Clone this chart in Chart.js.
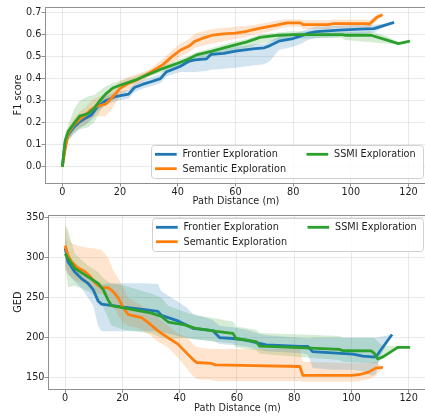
<!DOCTYPE html>
<html><head><meta charset="utf-8">
<script src="https://cdn.jsdelivr.net/npm/chart.js@4"></script>
<style>
html,body{margin:0;padding:0;background:#fff;overflow:hidden;width:425px;height:416px;}
canvas{position:absolute;left:0;}
#c1{top:0;} #c2{top:208px;}
</style></head>
<body>
<canvas id="c1" width="432" height="208"></canvas>
<canvas id="c2" width="432" height="208"></canvas>
<script>
// ---------- data ----------
const seriesNames = ['Frontier Exploration', 'Semantic Exploration', 'SSMI Exploration'];
const xTicks = [0, 20, 40, 60, 80, 100, 120];
const f1Ticks = [0.0, 0.1, 0.2, 0.3, 0.4, 0.5, 0.6, 0.7];
const gedTicks = [150, 200, 250, 300, 350];

// F1 score
const frontierF1X  = [0, 1, 2, 4, 6, 8, 10, 12, 15, 18.8, 23, 25, 28, 30.5, 34, 36, 40.8, 44, 46, 50, 51.5, 56, 60, 66, 70, 72, 75, 80, 83, 85, 88, 96, 103, 108, 115];
const frontierF1   = [0, 0.11, 0.145, 0.18, 0.205, 0.22, 0.235, 0.27, 0.30, 0.32, 0.33, 0.36, 0.375, 0.385, 0.40, 0.43, 0.455, 0.48, 0.485, 0.49, 0.51, 0.515, 0.525, 0.535, 0.54, 0.55, 0.57, 0.582, 0.595, 0.605, 0.613, 0.62, 0.625, 0.627, 0.655];
const frontierF1Lo = [0, 0.09, 0.12, 0.15, 0.175, 0.19, 0.21, 0.25, 0.28, 0.30, 0.31, 0.34, 0.355, 0.365, 0.38, 0.41, 0.43, 0.43, 0.43, 0.435, 0.44, 0.445, 0.45, 0.46, 0.465, 0.48, 0.53, 0.545, 0.56, 0.575, 0.585, 0.59, 0.60, 0.61, 0.655];
const frontierF1Hi = [0, 0.13, 0.17, 0.21, 0.23, 0.245, 0.26, 0.29, 0.32, 0.34, 0.35, 0.38, 0.395, 0.405, 0.42, 0.45, 0.475, 0.5, 0.505, 0.515, 0.53, 0.535, 0.545, 0.555, 0.56, 0.57, 0.59, 0.605, 0.615, 0.625, 0.635, 0.64, 0.645, 0.645, 0.655];

const semanticF1X  = [0, 1, 2, 4, 6, 8, 10, 12, 15, 17, 20, 23, 26, 30, 35, 38, 41, 44, 46, 49, 52, 56, 60, 64, 67, 71, 75, 78, 82.5, 83.5, 92, 94, 105, 106.5, 109, 111];
const semanticF1   = [0, 0.08, 0.15, 0.19, 0.215, 0.235, 0.26, 0.275, 0.285, 0.31, 0.355, 0.38, 0.395, 0.425, 0.465, 0.50, 0.53, 0.548, 0.57, 0.585, 0.597, 0.603, 0.607, 0.615, 0.625, 0.635, 0.645, 0.653, 0.653, 0.645, 0.645, 0.65, 0.65, 0.648, 0.678, 0.69];
const semanticF1Lo = [0, 0.06, 0.12, 0.16, 0.18, 0.19, 0.22, 0.23, 0.23, 0.26, 0.32, 0.35, 0.37, 0.41, 0.44, 0.47, 0.50, 0.52, 0.54, 0.55, 0.56, 0.57, 0.58, 0.59, 0.60, 0.61, 0.625, 0.635, 0.635, 0.625, 0.625, 0.63, 0.632, 0.63, 0.665, 0.69];
const semanticF1Hi = [0, 0.1, 0.175, 0.22, 0.25, 0.27, 0.30, 0.315, 0.33, 0.35, 0.39, 0.41, 0.42, 0.44, 0.49, 0.53, 0.56, 0.58, 0.605, 0.615, 0.625, 0.63, 0.635, 0.64, 0.645, 0.655, 0.665, 0.67, 0.67, 0.665, 0.665, 0.668, 0.668, 0.665, 0.69, 0.695];

const ssmiF1X  = [0, 1, 2, 4, 6, 9, 11, 13, 15, 17.5, 20, 25, 30, 35, 40, 44, 46.5, 52, 56, 59, 64, 68.5, 75, 80, 90, 97, 98, 107, 112, 116.5, 120.5];
const ssmiF1   = [0, 0.12, 0.16, 0.195, 0.23, 0.242, 0.265, 0.30, 0.33, 0.358, 0.37, 0.392, 0.42, 0.447, 0.47, 0.49, 0.508, 0.525, 0.54, 0.55, 0.567, 0.587, 0.597, 0.60, 0.60, 0.60, 0.597, 0.597, 0.577, 0.559, 0.57];
const ssmiF1Lo = [0, 0.09, 0.12, 0.15, 0.17, 0.18, 0.2, 0.25, 0.29, 0.32, 0.35, 0.38, 0.41, 0.43, 0.455, 0.47, 0.49, 0.5, 0.515, 0.525, 0.54, 0.56, 0.575, 0.58, 0.585, 0.585, 0.575, 0.565, 0.56, 0.555, 0.57];
const ssmiF1Hi = [0, 0.15, 0.19, 0.26, 0.30, 0.32, 0.325, 0.345, 0.365, 0.38, 0.39, 0.41, 0.435, 0.46, 0.485, 0.505, 0.52, 0.54, 0.555, 0.565, 0.58, 0.6, 0.61, 0.615, 0.612, 0.612, 0.612, 0.615, 0.595, 0.565, 0.57];

// GED
const frontierGedX  = [0, 1, 3.4, 5.7, 8, 9.8, 11.5, 12.7, 19.7, 27.8, 32.4, 33.6, 39.4, 42.3, 44.6, 51.6, 54, 58.6, 63.2, 67.9, 70.2, 81.9, 84.8, 86.5, 93.5, 100.5, 104, 107.4, 108.6, 109.8, 114.2];
const frontierGed   = [312, 295, 282, 274, 268, 260, 246, 242, 238.5, 235, 233, 228, 221, 216, 211.7, 208.8, 200, 199, 197, 193, 191, 189, 189, 182.5, 181, 179.6, 177, 176, 176, 182.5, 204];
const frontierGedLo = [290, 280, 270, 262, 250, 240, 215, 208, 208, 208, 208, 207, 202, 200, 198, 196, 192, 191, 189, 185, 183, 181, 179, 162, 160, 160, 158, 152, 155, 175, 204];
const frontierGedHi = [330, 305, 292, 285, 280, 275, 270, 267, 268, 268, 267, 258, 245, 238, 230, 222, 215, 213, 210, 205, 203, 200, 199, 200, 200, 200, 200, 200, 200, 201, 204];

const semanticGedX  = [0, 1, 2.2, 4.5, 6.8, 8.6, 11, 12.7, 15, 16.7, 18.5, 20.3, 22, 24.3, 26.7, 29, 32.4, 35.9, 39.4, 42.8, 45.2, 46, 51, 52.5, 66, 82, 83, 100, 103, 106, 108.5, 111];
const semanticGed   = [315, 303, 295, 287, 283, 277, 266.6, 262.5, 262.5, 258, 250, 237.5, 229, 227, 225, 219, 208.5, 200, 192, 179.5, 171, 169, 168, 166, 165, 164, 153, 153, 154, 157, 162, 163];
const semanticGedLo = [285, 280, 275, 270, 268, 262, 255, 255, 250, 240, 228, 218, 215, 213, 210, 205, 195, 188, 175, 160, 150, 148, 147, 146, 146, 146, 145, 145, 146, 148, 152, 163];
const semanticGedHi = [345, 325, 318, 315, 313, 312, 311, 310, 300, 285, 275, 262, 250, 245, 240, 235, 225, 215, 205, 200, 190, 188, 186, 186, 186, 186, 170, 168, 168, 168, 170, 163];

const ssmiGedX  = [0, 1, 3.4, 8, 11.5, 13.3, 15, 16.2, 20.9, 30.2, 33.6, 36, 41.8, 45.3, 52.8, 58.6, 59.7, 66.7, 67.9, 81.9, 95.8, 97, 106.9, 108, 109.2, 111, 116.2, 120.5];
const ssmiGed   = [305, 299, 286.7, 276, 268, 260, 247, 240, 237, 230.8, 226.6, 219.6, 216, 212, 208, 205.4, 199, 195, 189.6, 187.5, 185.4, 183.7, 183.5, 180.4, 173.3, 176, 188, 188];
const ssmiGedLo = [290, 263, 265, 258, 250, 238, 225, 215, 210, 205, 200, 198, 200, 198, 195, 193, 188, 184, 180, 176, 172, 170, 168, 168, 168, 175, 186, 188];
const ssmiGedHi = [340, 335, 305, 290, 282, 275, 270, 268, 265, 255, 250, 240, 232, 228, 224, 220, 214, 210, 206, 204, 202, 200, 200, 200, 195, 190, 190, 188];

// ---------- style ----------
const COLORS = ['#1f77b4', '#ff7f0e', '#2ca02c'];
const BANDS = ['rgba(31,119,180,0.2)', 'rgba(255,127,14,0.2)', 'rgba(44,160,44,0.2)'];
const FONT = 'DejaVu Sans';
const FS = 9.7;
const TXT = '#1e1e1e';
const SPINE = '#8f8f8f';
const GRID = 'rgba(0,0,0,0.085)';
const LW = 2.8;

function pts(xs, ys) { return xs.map((x, i) => ({x: x, y: ys[i]})); }

function buildDatasets(series) {
  const lines = [], bands = [];
  series.forEach((s, k) => {
    lines.push({label: seriesNames[k], data: pts(s.x, s.y), borderColor: COLORS[k], borderWidth: LW,
      pointRadius: 0, fill: false, tension: 0, borderJoinStyle: 'round', borderCapStyle: 'butt', order: 2 - k});
  });
  series.forEach((s, k) => {
    bands.push({label: 'hi' + k, data: pts(s.x, s.hi), borderWidth: 0, borderColor: 'rgba(0,0,0,0)', pointRadius: 0, fill: false, tension: 0, order: 10});
    bands.push({label: 'lo' + k, data: pts(s.x, s.lo), borderWidth: 0, borderColor: 'rgba(0,0,0,0)', pointRadius: 0,
      fill: '-1', backgroundColor: BANDS[k], tension: 0, order: 10});
  });
  return lines.concat(bands);
}

const chromePlugin = {
  id: 'chrome',
  afterDraw(chart, args, opts) {
    const ctx = chart.ctx, a = chart.chartArea;
    ctx.save();
    ctx.strokeStyle = SPINE; ctx.lineWidth = 1;
    ctx.beginPath();
    ctx.moveTo(a.left, Math.round(a.top) + 0.5); ctx.lineTo(a.right, Math.round(a.top) + 0.5);
    ctx.stroke();
    // legend
    const b = opts.box;
    ctx.beginPath();
    if (ctx.roundRect) ctx.roundRect(b.left + 0.5, b.top + 0.5, b.right - b.left, b.bottom - b.top, 3);
    else ctx.rect(b.left + 0.5, b.top + 0.5, b.right - b.left, b.bottom - b.top);
    ctx.fillStyle = 'rgba(255,255,255,0.8)';
    ctx.fill();
    ctx.strokeStyle = '#d0d0d0';
    ctx.stroke();
    const cols = [[b.left + 4, b.left + 31.5], [b.left + 155.5, b.left + 183]];
    const rows = [b.top + 9.3, b.top + 23.7];
    const place = [[0, 0], [0, 1], [1, 0]];
    ctx.font = FS + 'px "' + FONT + '"';
    ctx.textBaseline = 'middle';
    ctx.textAlign = 'left';
    place.forEach((p, k) => {
      const c = cols[p[0]], y = rows[p[1]];
      ctx.beginPath();
      ctx.strokeStyle = COLORS[k]; ctx.lineWidth = LW;
      ctx.moveTo(c[0], y); ctx.lineTo(c[0] + 21.7, y); ctx.stroke();
      ctx.fillStyle = TXT;
      ctx.fillText(seriesNames[k], c[1], y + 0.5);
    });
    ctx.restore();
  }
};

function makeChart(id, series, yTicks, yMin, yMax, yLabel, yWidth, xHeight, xTitlePad, legendBox, fmt) {
  return new Chart(document.getElementById(id), {
    type: 'line',
    data: {datasets: buildDatasets(series)},
    plugins: [chromePlugin],
    options: {
      responsive: false, animation: false, devicePixelRatio: 1,
      layout: {padding: {top: 7, right: 5, left: 0, bottom: 0}},
      plugins: {legend: {display: false}, tooltip: {enabled: false}, filler: {drawTime: 'beforeDatasetsDraw'},
        chrome: {box: legendBox}},
      scales: {
        x: {
          type: 'linear', min: -6, max: 126.4,
          afterBuildTicks: s => { s.ticks = xTicks.map(v => ({value: v})); },
          afterFit: s => { s.height = xHeight; },
          ticks: {color: TXT, font: {family: FONT, size: FS}, padding: 0, maxRotation: 0, autoSkip: false,
            callback: v => String(v)},
          grid: {color: GRID, lineWidth: 1, tickLength: 3.5, tickColor: SPINE, tickWidth: 1},
          border: {display: true, color: SPINE, width: 1},
          title: {display: true, text: 'Path Distance (m)', color: TXT, font: {family: FONT, size: FS}, padding: {top: 0, bottom: xTitlePad}}
        },
        y: {
          type: 'linear', min: yMin, max: yMax,
          afterBuildTicks: s => { s.ticks = yTicks.map(v => ({value: v})); },
          afterFit: s => { s.width = yWidth; },
          ticks: {color: TXT, font: {family: FONT, size: FS}, padding: 0, autoSkip: false, callback: fmt},
          grid: {color: GRID, lineWidth: 1, tickLength: 3.5, tickColor: SPINE, tickWidth: 1},
          border: {display: true, color: SPINE, width: 1},
          title: {display: true, text: yLabel, color: TXT, font: {family: FONT, size: FS}, padding: {top: 13, bottom: 0}}
        }
      }
    }
  });
}

makeChart('c1', [
  {x: frontierF1X, y: frontierF1, lo: frontierF1Lo, hi: frontierF1Hi},
  {x: semanticF1X, y: semanticF1, lo: semanticF1Lo, hi: semanticF1Hi},
  {x: ssmiF1X, y: ssmiF1, lo: ssmiF1Lo, hi: ssmiF1Hi}
], f1Ticks, -0.073, 0.725, 'F1 score', 45, 25, 0.5,
  {left: 151, top: 145, right: 423, bottom: 178}, v => Number(v).toFixed(1));

makeChart('c2', [
  {x: frontierGedX, y: frontierGed, lo: frontierGedLo, hi: frontierGedHi},
  {x: semanticGedX, y: semanticGed, lo: semanticGedLo, hi: semanticGedHi},
  {x: ssmiGedX, y: ssmiGed, lo: ssmiGedLo, hi: ssmiGedHi}
], gedTicks, 135.5, 353.4, 'GED', 48, 26.7, 2,
  {left: 152, top: 10, right: 423, bottom: 43}, v => String(v));
</script>
</body></html>
